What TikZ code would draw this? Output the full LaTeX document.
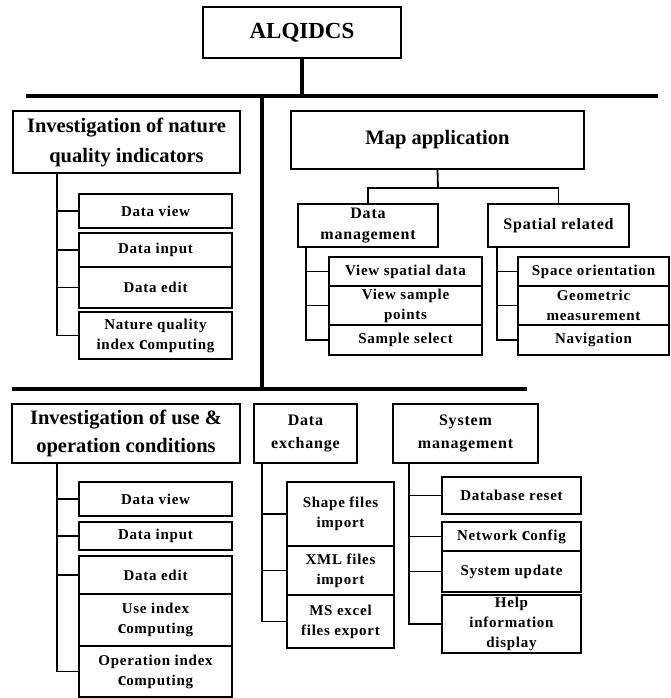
\documentclass[tikz,border=0pt]{standalone}
\usepackage{fontspec}
\setmainfont{Liberation Serif}
\newfontfamily\spfont{Liberation Serif}[LetterSpace=5]
\tikzset{
  box/.style={draw, line width=1.5pt, fill=white, align=center, inner sep=0pt},
  hdr/.style={box, font=\fontsize{20.5}{30}\selectfont\bfseries},
  mid/.style={box, font=\spfont\fontsize{16}{23}\selectfont\bfseries},
  sub/.style={box, font=\spfont\fontsize{15}{20}\selectfont\bfseries},
  thickln/.style={line width=3.5pt},
  conn/.style={line width=1.8pt},
}
\newcommand\bx[7]{\node[#7, minimum width={(#4-#2)*1pt}, minimum height={(#5-#3)*1pt}]
  (#1) at ({(#2+#4)/2},{(#3+#5)/2}) {#6};}
\newcommand\bigc{{\fontsize{19}{19}\selectfont c}}
\begin{document}
\begin{tikzpicture}[x=1pt,y=-1pt]
\useasboundingbox (0,0) rectangle (671,698);
% root and trunk
\bx{root}{203}{7}{401}{58}{ALQIDCS}{hdr, font=\fontsize{23}{26}\selectfont\bfseries}
\coordinate (l1a) at (26,96);
\coordinate (l1b) at (658,96);
\coordinate (l2a) at (12,389);
\coordinate (l2b) at (527,389);
\draw[thickln] (l1a) -- (l1b);
\draw[thickln] (l2a) -- (l2b);
\draw[thickln] (root.south) -- (root.south |- l1a);
\draw[thickln] (262,96) coordinate (tk1) -- (tk1 |- l2a);

% Investigation of nature quality indicators
\bx{nat}{13}{111}{240}{173}{Investigation of nature\\quality indicators}{hdr}
\bx{dva}{79}{194}{232}{228}{Data view}{sub}
\bx{dia}{79}{233}{232}{267}{Data input}{sub}
\bx{dea}{79}{267}{232}{308}{Data edit}{sub}
\bx{nqa}{79}{312}{232}{359}{Nature quality\\index \bigc omputing}{sub}
\coordinate (spa) at (57,173);
\draw[conn] (spa) -- (spa |- nqa.west) -- (nqa.west);
\foreach \n in {dva,dia,dea} \draw[conn] (spa |- \n.west) -- (\n.west);

% Map application
\bx{map}{291}{111}{584}{169}{Map application}{hdr}
\bx{dm}{298}{204}{438}{247}{Data\\management}{mid, font=\spfont\fontsize{16}{21}\selectfont\bfseries}
\bx{sr}{488}{204}{629}{247}{Spatial related}{mid}
\coordinate (mj) at (438,188);
\draw[conn] (map.south) -- (mj);
\draw[conn] (dm.north) -- (dm.north |- mj) -- (sr.north |- mj) -- (sr.north);
\bx{vsd}{329}{257}{482}{286}{View spatial data}{sub}
\bx{vsp}{329}{286}{482}{325}{View sample\\points}{sub}
\bx{sse}{329}{325}{482}{355}{Sample select}{sub}
\coordinate (spdm) at (306,247);
\draw[conn] (spdm) -- (spdm |- sse.west) -- (sse.west);
\foreach \n in {vsd,vsp} \draw[conn] (spdm |- \n.west) -- (\n.west);
\bx{sor}{518}{257}{669}{286}{Space orientation}{sub}
\bx{gme}{518}{286}{669}{325}{Geometric\\measurement}{sub}
\bx{nav}{518}{325}{669}{355}{Navigation}{sub}
\coordinate (spsr) at (497,247);
\draw[conn] (spsr) -- (spsr |- nav.west) -- (nav.west);
\foreach \n in {sor,gme} \draw[conn] (spsr |- \n.west) -- (\n.west);

% Investigation of use & operation conditions
\bx{use}{12}{404}{240}{463}{Investigation of use \&\\operation conditions}{hdr, font=\fontsize{20.5}{28}\selectfont\bfseries}
\bx{dvb}{79}{482}{232}{516}{Data view}{sub}
\bx{dib}{79}{522}{232}{550}{Data input}{sub}
\bx{deb}{79}{556}{232}{594}{Data edit}{sub}
\bx{uic}{79}{594}{232}{646}{Use index\\\bigc omputing}{sub}
\bx{oic}{79}{646}{232}{697}{Operation index\\\bigc omputing}{sub}
\coordinate (spu) at (57,463);
\draw[conn] (spu) -- (spu |- oic.west) -- (oic.west);
\foreach \n in {dvb,dib,deb} \draw[conn] (spu |- \n.west) -- (\n.west);

% Data exchange
\bx{dx}{254}{404}{357}{463}{Data\\exchange}{mid}
\bx{shp}{287}{482}{394}{546}{Shape files\\import}{sub}
\bx{xml}{287}{546}{394}{595}{XML files\\import}{sub}
\bx{msx}{287}{595}{394}{648}{MS excel\\files export}{sub}
\coordinate (spx) at (262,463);
\draw[conn] (spx) -- (spx |- msx.west) -- (msx.west);
\foreach \n in {shp,xml} \draw[conn] (spx |- \n.west) -- (\n.west);

% System management
\bx{sm}{393}{404}{538}{463}{System\\management}{mid}
\bx{dbr}{442}{477}{581}{514}{Database reset}{sub}
\bx{ncf}{442}{522}{581}{551}{Network \bigc onfig}{sub}
\bx{sup}{442}{551}{581}{592}{System update}{sub}
\bx{hlp}{442}{595}{581}{653}{Help\\information\\display}{sub}
\coordinate (sps) at (409,463);
\draw[conn] (sps) -- (sps |- hlp.west) -- (hlp.west);
\foreach \n in {dbr,ncf,sup} \draw[conn] (sps |- \n.west) -- (\n.west);
\end{tikzpicture}
\end{document}
